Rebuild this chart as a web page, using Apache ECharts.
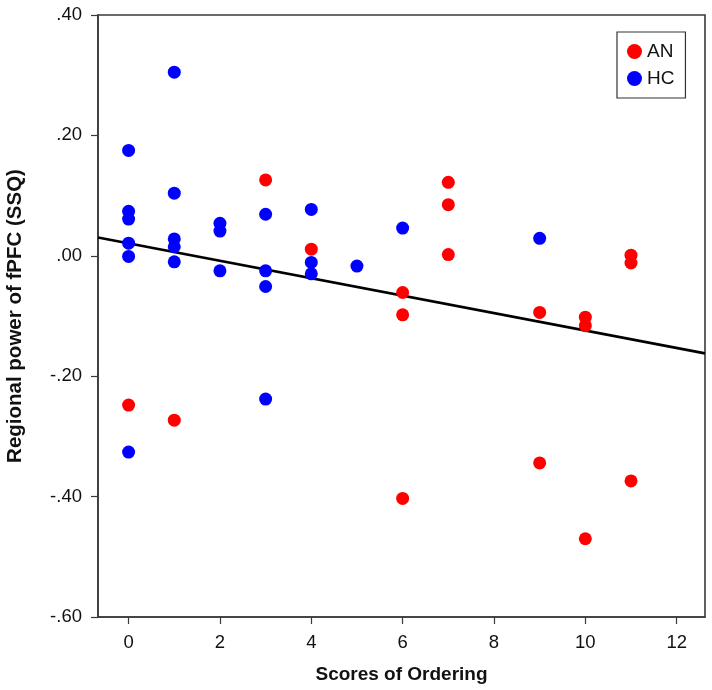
<!DOCTYPE html>
<html>
<head>
<meta charset="utf-8">
<script src="https://cdn.jsdelivr.net/npm/echarts@6/dist/echarts.min.js"></script>
<style>html,body{margin:0;padding:0;background:#fff}#c{width:712px;height:690px}</style>
</head>
<body>
<div id="c"></div>
<script>
// Data
const anX = [0, 1, 3, 4, 6, 6, 6, 7, 7, 7, 9, 9, 10, 10, 10, 11, 11, 11];
const anY = [-0.248, -0.273, 0.126, 0.011, -0.061, -0.098, -0.403, 0.122, 0.085, 0.002, -0.094, -0.344, -0.102, -0.116, -0.470, 0.001, -0.012, -0.374];
const hcX = [0, 0, 0, 0, 0, 0, 1, 1, 1, 1, 1, 2, 2, 2, 3, 3, 3, 3, 4, 4, 4, 5, 6, 9];
const hcY = [0.175, 0.074, 0.061, 0.021, -0.001, -0.326, 0.305, 0.104, 0.028, 0.015, -0.010, 0.054, 0.041, -0.025, 0.069, -0.025, -0.051, -0.238, 0.077, -0.011, -0.030, -0.017, 0.046, 0.029];
const fitIntercept = 0.0208;
const fitSlope = -0.01449;
const xTicks = [0, 2, 4, 6, 8, 10, 12];
const yTicks = [-0.6, -0.4, -0.2, 0, 0.2, 0.4];
const xMin = -0.67, xMax = 12.62;
const yMin = -0.6, yMax = 0.4;

const zip = (xs, ys) => xs.map((x, i) => [x, ys[i]]);
const fitLine = [xMin, xMax].map(x => [x, fitIntercept + fitSlope * x]);
const fmtY = v => {
  const s = Math.abs(v).toFixed(2).replace(/^0/, '');
  return (v < -1e-9 ? '-' : '') + s;
};
const font = '"Liberation Sans", Arial, sans-serif';

const chart = echarts.init(document.getElementById('c'), null, {renderer: 'canvas'});
chart.setOption({
  animation: false,
  backgroundColor: '#fff',
  grid: {left: 98, top: 15, right: 7, bottom: 73, containLabel: false, outerBoundsMode: 'none',
         show: true, borderColor: '#3a3a3a', borderWidth: 1.6, backgroundColor: 'transparent'},
  legend: {
    orient: 'vertical', left: 617, top: 32,
    padding: [10, 11, 10, 10],
    borderColor: '#333', borderWidth: 1.2,
    itemWidth: 15, itemHeight: 15, itemGap: 8, itemTextGap: 8,
    textStyle: {fontFamily: font, fontSize: 19, color: '#111'},
    data: [{name: 'AN', icon: 'circle'}, {name: 'HC', icon: 'circle'}]
  },
  xAxis: {
    type: 'value', min: xMin, max: xMax,
    name: 'Scores of Ordering', nameLocation: 'middle', nameGap: 48,
    nameTextStyle: {fontFamily: font, fontSize: 19, fontWeight: 'bold', color: '#111'},
    axisLine: {onZero: false, lineStyle: {color: '#3a3a3a', width: 1.6}},
    axisTick: {show: true, length: 7, lineStyle: {color: '#3a3a3a', width: 1.2}, customValues: xTicks},
    axisLabel: {fontFamily: font, fontSize: 18.5, color: '#111', margin: 16, customValues: xTicks},
    splitLine: {show: false}
  },
  yAxis: {
    type: 'value', min: yMin, max: yMax,
    name: 'Regional power of fPFC (SSQ)', nameLocation: 'middle', nameGap: 72,
    nameTextStyle: {fontFamily: font, fontSize: 20.5, fontWeight: 'bold', color: '#111'},
    axisLine: {onZero: false, lineStyle: {color: '#3a3a3a', width: 1.6}},
    axisTick: {show: true, length: 7, lineStyle: {color: '#3a3a3a', width: 1.2}, customValues: yTicks},
    axisLabel: {fontFamily: font, fontSize: 18.5, color: '#111', margin: 16, formatter: fmtY, customValues: yTicks},
    splitLine: {show: false}
  },
  series: [
    {name: 'Fit', type: 'line', data: fitLine, showSymbol: false, symbol: 'none',
     lineStyle: {color: '#000', width: 2.6}, z: 3, silent: true},
    {name: 'AN', type: 'scatter', data: zip(anX, anY), symbol: 'circle', symbolSize: 13,
     itemStyle: {color: '#ff0000', opacity: 1}, z: 4},
    {name: 'HC', type: 'scatter', data: zip(hcX, hcY), symbol: 'circle', symbolSize: 13,
     itemStyle: {color: '#0000ff', opacity: 1}, z: 5}
  ]
});
</script>
</body>
</html>
